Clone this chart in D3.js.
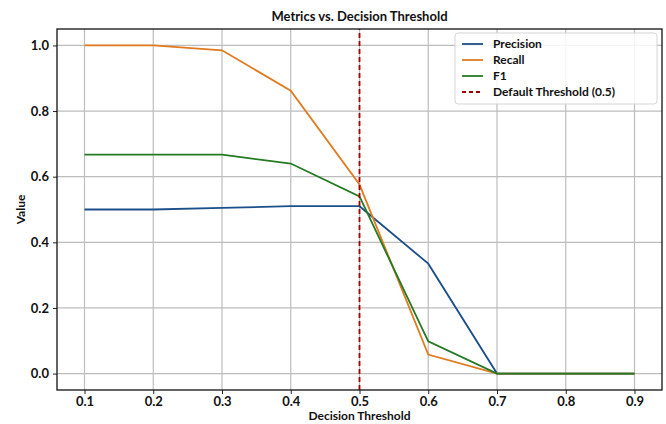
<!DOCTYPE html>
<html>
<head>
<meta charset="utf-8">
<script src="https://cdn.jsdelivr.net/npm/d3@7"></script>
<style>
  body { margin: 0; background: #fff; }
  text { font-family: Lato, "Liberation Sans", sans-serif; fill: #111; }
</style>
</head>
<body>
<div id="chart"></div>
<script>
var thresholds = [0.1, 0.2, 0.3, 0.4, 0.5, 0.6, 0.7, 0.8, 0.9];
var precision = [0.50, 0.50, 0.505, 0.51, 0.51, 0.335, 0.0, 0.0, 0.0];
var recall = [1.0, 1.0, 0.985, 0.862, 0.576, 0.058, 0.0, 0.0, 0.0];
var f1 = [0.667, 0.667, 0.667, 0.64, 0.54, 0.098, 0.0, 0.0, 0.0];
var yTicks = [0.0, 0.2, 0.4, 0.6, 0.8, 1.0];
var seriesNames = ["Precision", "Recall", "F1"];
var defaultThreshold = 0.5;

var width = 666, height = 424,
    margin = {top: 29, right: 4, bottom: 34, left: 57};

var svg = d3.select("#chart").append("svg")
  .attr("width", width).attr("height", height);

var x = d3.scaleLinear().domain([0.06, 0.94]).range([margin.left, width - margin.right]);
var y = d3.scaleLinear().domain([-0.05, 1.05]).range([height - margin.bottom, margin.top]);

var colors = ["#1b4f8a", "#e07b20", "#237a23"];

// grid
svg.append("g").selectAll("line").data(thresholds).enter().append("line")
  .attr("x1", function(d){ return x(d); }).attr("x2", function(d){ return x(d); })
  .attr("y1", y.range()[0]).attr("y2", y.range()[1])
  .style("stroke", "#bdbdbd").style("stroke-width", 1.2);
svg.append("g").selectAll("line").data(yTicks).enter().append("line")
  .attr("y1", function(d){ return y(d); }).attr("y2", function(d){ return y(d); })
  .attr("x1", x.range()[0]).attr("x2", x.range()[1])
  .style("stroke", "#bdbdbd").style("stroke-width", 1.2);

// axes
var xAxis = svg.append("g")
  .attr("transform", "translate(0," + (height - margin.bottom) + ")")
  .call(d3.axisBottom(x).tickValues(thresholds).tickFormat(d3.format(".1f")).tickSize(4).tickPadding(3));
var yAxis = svg.append("g")
  .attr("transform", "translate(" + margin.left + ",0)")
  .call(d3.axisLeft(y).tickValues(yTicks).tickFormat(d3.format(".1f")).tickSize(4).tickPadding(4));
[xAxis, yAxis].forEach(function(a){
  a.select(".domain").remove();
  a.selectAll("text").style("font-family", "Lato, sans-serif")
    .style("font-size", "13px").style("font-weight", "bold").style("fill", "#111");
  a.selectAll("line").style("stroke", "#222");
});

// lines
var line = d3.line()
  .x(function(d, i){ return x(thresholds[i]); })
  .y(function(d){ return y(d); });

[precision, recall, f1].forEach(function(s, i){
  svg.append("path").datum(s)
    .attr("d", line)
    .style("fill", "none")
    .style("stroke", colors[i])
    .style("stroke-width", 1.8);
});

svg.append("line")
  .attr("x1", x(defaultThreshold)).attr("x2", x(defaultThreshold))
  .attr("y1", y.range()[0]).attr("y2", y.range()[1])
  .style("stroke", "#a00000").style("stroke-width", 1.8)
  .style("stroke-dasharray", "5,3");

// frame
svg.append("rect")
  .attr("x", margin.left).attr("y", margin.top)
  .attr("width", width - margin.left - margin.right)
  .attr("height", height - margin.top - margin.bottom)
  .style("fill", "none").style("stroke", "#111").style("stroke-width", 1.3);

// title and labels
svg.append("text").attr("x", (margin.left + width - margin.right) / 2).attr("y", 21)
  .attr("text-anchor", "middle").style("font-size", "13px").style("font-weight", "bold")
  .text("Metrics vs. Decision Threshold");
svg.append("text").attr("x", (margin.left + width - margin.right) / 2).attr("y", 420)
  .attr("text-anchor", "middle").style("font-size", "12px").style("font-weight", "bold")
  .text("Decision Threshold");
svg.append("text")
  .attr("transform", "translate(25," + (margin.top + height - margin.bottom) / 2 + ") rotate(-90)")
  .attr("text-anchor", "middle").style("font-size", "12px").style("font-weight", "bold")
  .text("Value");

// legend
var legend = svg.append("g").attr("transform", "translate(455,33)");
legend.append("rect").attr("width", 202).attr("height", 71).attr("rx", 3)
  .style("fill", "#fff").style("fill-opacity", 0.85)
  .style("stroke", "#d5d5d5");
var legendItems = seriesNames.concat(["Default Threshold (0.5)"]);
legendItems.forEach(function(name, i){
  var ly = 11 + i * 16;
  legend.append("line").attr("x1", 7).attr("x2", 28).attr("y1", ly).attr("y2", ly)
    .style("stroke", i < 3 ? colors[i] : "#a00000").style("stroke-width", 1.8)
    .style("stroke-dasharray", i < 3 ? null : "4,3");
  legend.append("text").attr("x", 38).attr("y", ly + 4)
    .style("font-size", "12px").style("font-weight", "bold").text(name);
});
</script>
</body>
</html>
